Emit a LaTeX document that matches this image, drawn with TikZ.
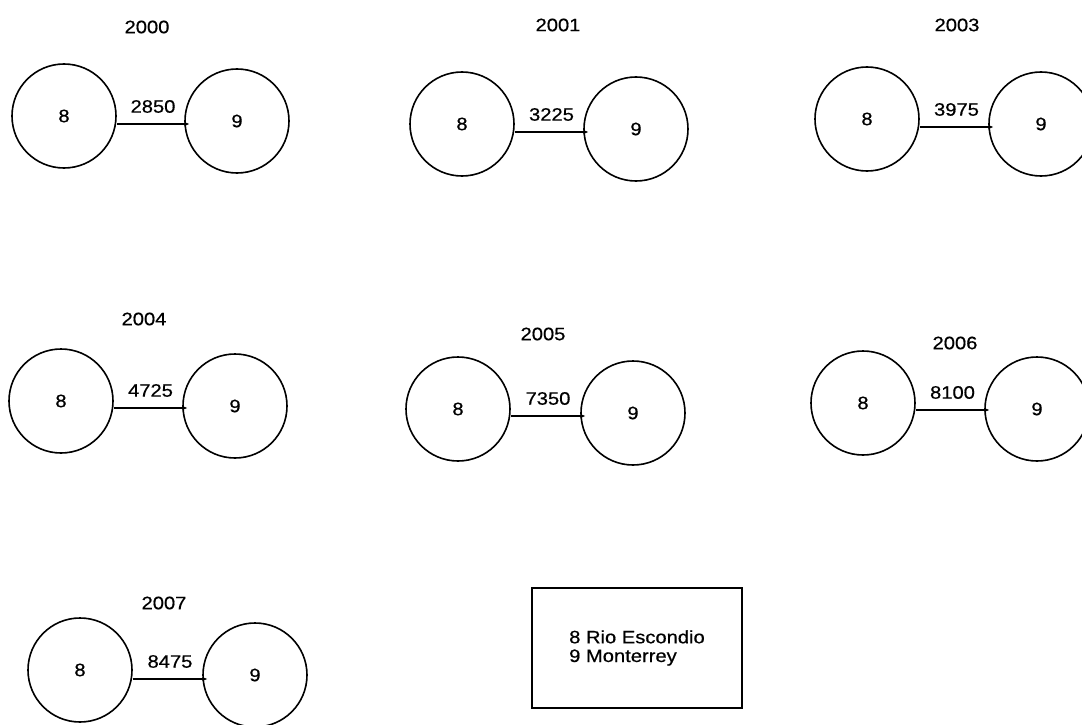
\documentclass[tikz,border=0pt]{standalone}
\usepackage{fontspec}
\setmainfont{Liberation Sans}[FakeStretch=1.12,FakeBold=0.6]
\usetikzlibrary{arrows.meta,calc}
\newcommand\flowpair[7]{%
  \node[city] (#1a) at (#2,#3) {8};
  \node[city] (#1b) at (#4,#5) {9};
  \draw[flow] (#1a.east |- 0,#6) -- node[amount] (#1n) {#7} ($(#1b.west |- 0,#6)+(5,0)$);
}
\begin{document}
\begin{tikzpicture}[x=1pt,y=-1pt,
  txt/.style={font=\fontsize{18}{18.7}\selectfont},
  city/.style={circle,draw,line width=1.6pt,minimum size=104pt,inner sep=0pt,txt},
  flow/.style={line width=1.6pt,-{Stealth[length=5pt,width=4pt]}},
  yearlbl/.style={txt},
  amount/.style={txt,midway,above=7pt},
  legendbox/.style={draw,line width=1.4pt,minimum width=210pt,minimum height=120pt,align=left,txt}]
\useasboundingbox (0,0) rectangle (1082,725);

\flowpair{ya}{64}{116}{237}{121}{124}{2850}
\node[yearlbl] (yearA) at (147,27) {2000};

\flowpair{yb}{462}{124}{636}{129}{132}{3225}
\node[yearlbl] (yearB) at (558,25) {2001};

\flowpair{yc}{867}{119}{1041}{124}{127}{3975}
\node[yearlbl] (yearC) at (957,25) {2003};

\flowpair{yd}{61}{401}{235}{406}{408}{4725}
\node[yearlbl] (yearD) at (144,319) {2004};

\flowpair{ye}{458}{409}{633}{413}{416}{7350}
\node[yearlbl] (yearE) at (543,334) {2005};

\flowpair{yf}{863}{403}{1037}{409}{410}{8100}
\node[yearlbl] (yearF) at (955,343) {2006};

\flowpair{yg}{80}{670}{255}{675}{679}{8475}
\node[yearlbl] (yearG) at (164,603) {2007};

\node[legendbox] (legend) at (637,648) {8 Rio Escondio\\9 Monterrey};
\end{tikzpicture}
\end{document}
